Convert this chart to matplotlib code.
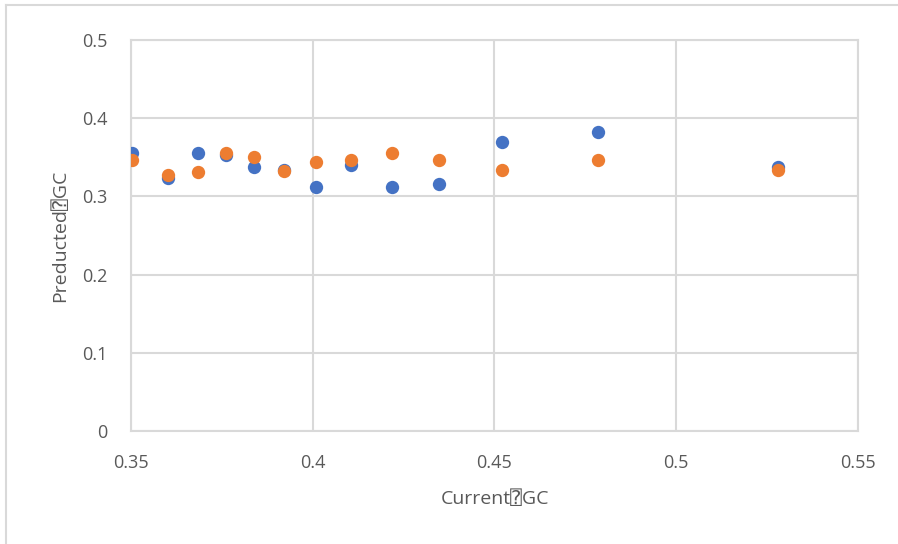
import matplotlib
matplotlib.use("Agg")
import matplotlib.pyplot as plt
from matplotlib.lines import Line2D

current_gc = [0.3502, 0.3602, 0.3684, 0.3761, 0.3838, 0.3921, 0.4009, 0.4105,
              0.4217, 0.4347, 0.4520, 0.4784, 0.5279]
predicted_blue = [0.356, 0.324, 0.356, 0.353, 0.337, 0.334, 0.312, 0.340,
                  0.312, 0.316, 0.369, 0.382, 0.337]
predicted_orange = [0.347, 0.327, 0.331, 0.356, 0.350, 0.333, 0.344, 0.347,
                    0.356, 0.347, 0.334, 0.347, 0.334]

xticks = [0.35, 0.4, 0.45, 0.5, 0.55]
xtick_labels = ["0.35", "0.4", "0.45", "0.5", "0.55"]
yticks = [0, 0.1, 0.2, 0.3, 0.4, 0.5]
ytick_labels = ["0", "0.1", "0.2", "0.3", "0.4", "0.5"]

plt.rcParams['font.family'] = ['Open Sans', 'DejaVu Sans', 'DejaVu Sans Mono']
grid_c = "#d9d9d9"
text_c = "#595959"

fig = plt.figure(figsize=(8.98, 5.44), dpi=100)
ax = fig.add_axes([131/898, 113/544, 727/898, 391/544])

ax.scatter(current_gc, predicted_blue, s=92, color="#4472C4", zorder=3, linewidths=0)
ax.scatter(current_gc, predicted_orange, s=92, color="#ED7D31", zorder=4, linewidths=0)

ax.set_xlim(0.35, 0.55)
ax.set_ylim(0, 0.5)
ax.set_xticks(xticks)
ax.set_xticklabels(xtick_labels)
ax.set_yticks(yticks)
ax.set_yticklabels(ytick_labels)
ax.grid(True, color=grid_c, linewidth=1.5, zorder=0)
for s in ax.spines.values():
    s.set_color(grid_c)
    s.set_linewidth(1.5)
ax.tick_params(length=0, labelsize=13, colors=text_c, pad=16.5)
ax.tick_params(axis="y", pad=17)

ax.set_xlabel("Current\u2370GC", fontsize=14, color=text_c, labelpad=13)
ax.set_ylabel("Preducted\u2370GC", fontsize=14, color=text_c, labelpad=9)

# chart frame, cut off on the right and bottom
fig.add_artist(Line2D([6/898, 6/898], [0, 1 - 5/544], color=grid_c, lw=1.5))
fig.add_artist(Line2D([6/898, 1], [1 - 5/544, 1 - 5/544], color=grid_c, lw=1.5))

fig.savefig("out.png", dpi=100)
